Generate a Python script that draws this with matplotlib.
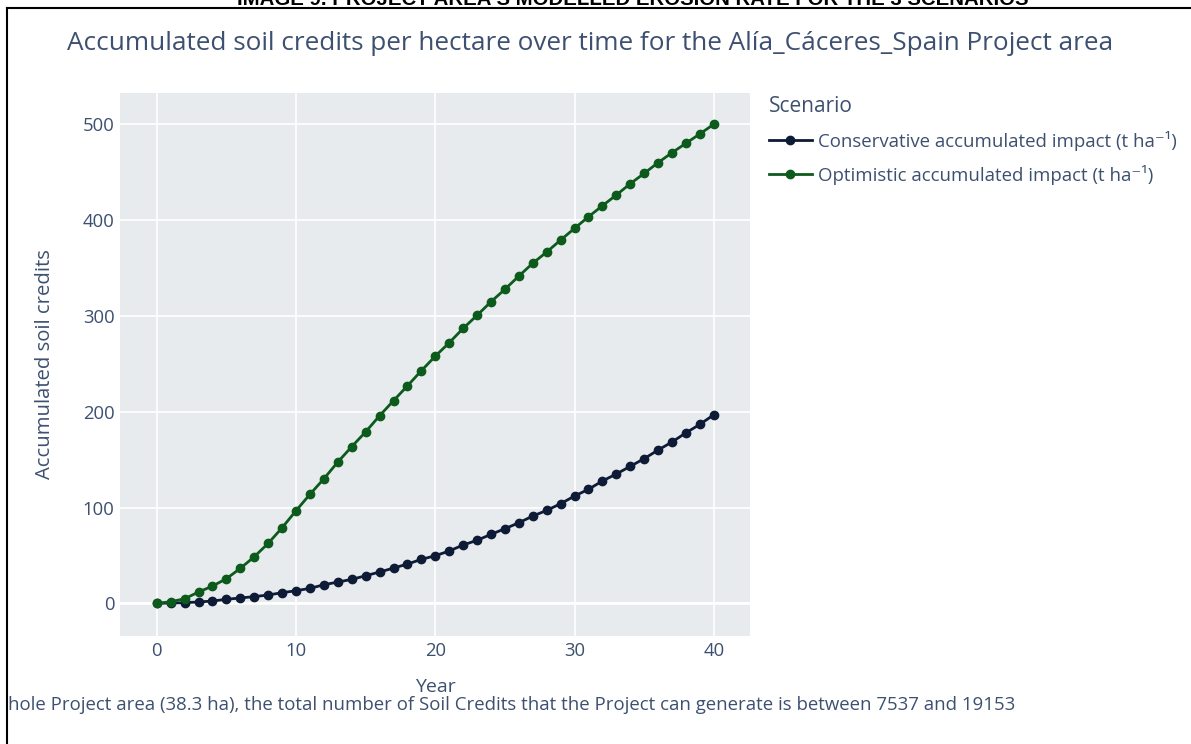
import matplotlib.pyplot as plt
from matplotlib.lines import Line2D

# accumulated soil credits per hectare, year 0 to 40
years = list(range(0, 41))
conservative = [0, 0.3, 0.7, 1.4, 2.4, 4.2, 5.6, 7.0, 8.7, 11.1,
                13.2, 15.6, 19.4, 22.2, 25.0, 28.8, 32.7, 36.8, 41.0, 45.9,
                49.7, 54.6, 60.9, 65.8, 72.0, 77.9, 84.1, 91.1, 97.0, 104.0,
                112.0, 119.0, 127.7, 135.0, 143.0, 151.0, 160.0, 168.4, 178.0, 186.8,
                196.8]
optimistic = [0, 1.7, 4.8, 11.8, 18.0, 25.7, 36.5, 48.6, 62.6, 78.9,
              96.7, 113.8, 130.0, 147.5, 163.5, 179.0, 195.8, 211.5, 227.0, 242.8,
              258.0, 272.0, 287.0, 300.6, 314.8, 327.8, 341.6, 355.0, 366.7, 379.2,
              391.4, 403.5, 415.0, 426.2, 438.0, 448.8, 460.0, 470.4, 480.2, 490.0,
              500.1]
labels = ['Conservative accumulated impact (t ha⁻¹)',
          'Optimistic accumulated impact (t ha⁻¹)']
x_ticks = [0, 10, 20, 30, 40]
y_ticks = [0, 100, 200, 300, 400, 500]

plt.rcParams['font.family'] = ['Open Sans', 'DejaVu Sans']
txt = '#3d5070'
W, H = 1191, 744

fig = plt.figure(figsize=(W / 100, H / 100), dpi=100)
ax = fig.add_axes([120 / W, 1 - 636 / H, 630 / W, 543 / H])
ax.set_facecolor('#e8ebed')

ax.plot(years, conservative, color='#0d1b36', lw=2.0, marker='o', ms=6, label=labels[0], zorder=3)
ax.plot(years, optimistic, color='#0c5a1c', lw=2.0, marker='o', ms=6, label=labels[1], zorder=4)

ax.set_xlim(-2.64, 42.6)
ax.set_ylim(-34.1, 532.7)
ax.set_xticks(x_ticks)
ax.set_yticks(y_ticks)
ax.grid(color='white', lw=1.2)
ax.axhline(0, color='white', lw=1.8, zorder=1)
ax.set_axisbelow(True)
for s in ax.spines.values():
    s.set_visible(False)
ax.tick_params(length=0, labelsize=13.3, labelcolor=txt, pad=4)

ax.set_xlabel('Year', fontsize=14, color=txt, labelpad=13)
ax.set_ylabel('Accumulated soil credits', fontsize=14.6, color=txt, labelpad=20)

fig.text(67 / W, 1 - 50 / H,
         'Accumulated soil credits per hectare over time for the Alía_Cáceres_Spain Project area',
         fontsize=18.8, color=txt, va='baseline', ha='left')

leg = fig.legend(loc='upper left', bbox_to_anchor=(769 / W, 1 - 96 / H), frameon=False,
                 title='Scenario', alignment='left', fontsize=13.4, title_fontsize=15,
                 handlelength=2.3, handletextpad=0.35, labelspacing=0.75,
                 borderpad=0, borderaxespad=0, labelcolor=txt)
leg.get_title().set_color(txt)

fig.text(8 / W, 1 - 705 / H,
         'hole Project area (38.3 ha), the total number of Soil Credits that the Project can generate is between 7537 and 19153',
         fontsize=13.4, color=txt, va='center', ha='left')

# document heading and page frame
fig.text(237 / W, 1 - 5 / H, "IMAGE 9. PROJECT AREA'S MODELLED EROSION RATE FOR THE 3 SCENARIOS",
         family='Liberation Sans', fontweight='bold', fontsize=14.7, color='black',
         va='baseline', ha='left')
fig.add_artist(Line2D([7 / W, 1], [1 - 7.5 / H, 1 - 7.5 / H], transform=fig.transFigure, color='black', lw=1.5))
fig.add_artist(Line2D([7 / W, 7 / W], [0, 1 - 7.5 / H], transform=fig.transFigure, color='black', lw=1.5))

fig.savefig('out.png', dpi=100)
